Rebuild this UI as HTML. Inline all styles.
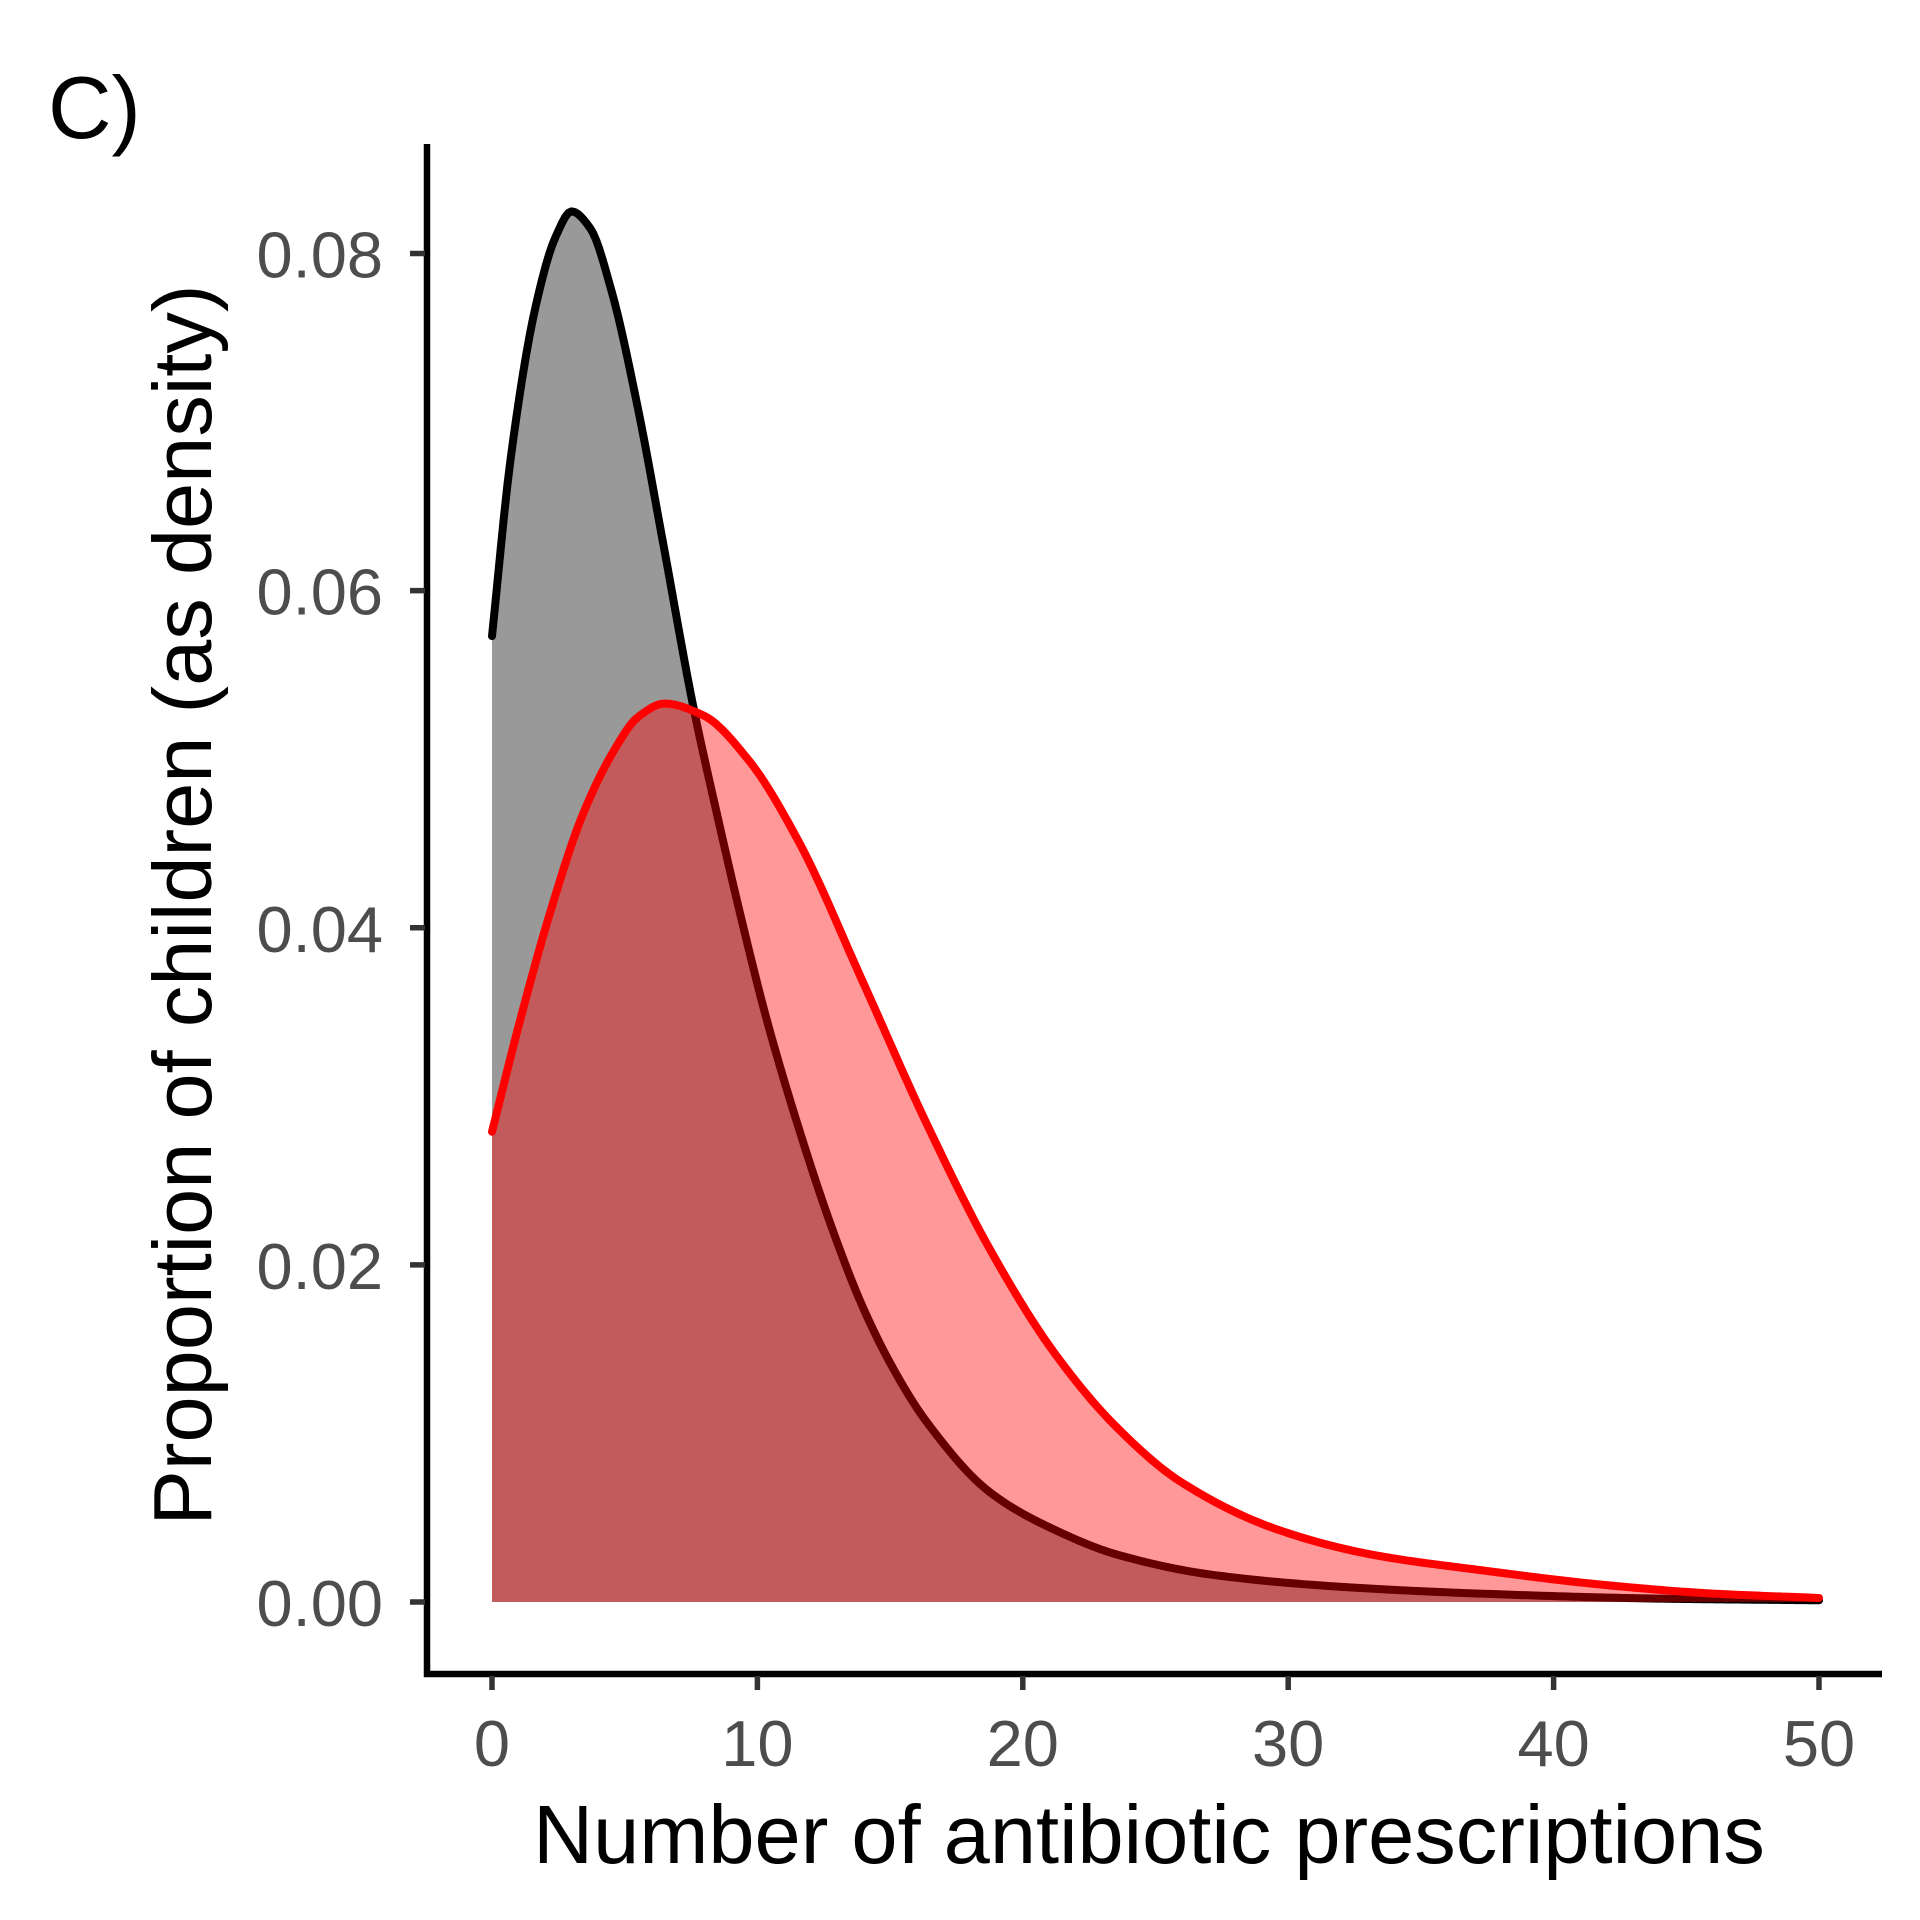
<!DOCTYPE html>
<html><head><meta charset="utf-8"><style>
html,body{margin:0;padding:0;background:#fff;}
svg{display:block;font-family:"Liberation Sans",sans-serif;}
</style></head><body>
<svg id="chart" width="1920" height="1920" viewBox="0 0 1920 1920">
<text x="48" y="138" font-size="88" fill="#000">C)</text>
<g id="plot"></g>
<line x1="427" y1="144" x2="427" y2="1677" stroke="#000" stroke-width="6.5"/>
<line x1="424" y1="1674" x2="1882" y2="1674" stroke="#000" stroke-width="6.5"/>
<g id="ticks"></g>
<text x="1149" y="1863" font-size="83" text-anchor="middle" fill="#000">Number of antibiotic prescriptions</text>
<text transform="translate(211,905) rotate(-90)" font-size="83" text-anchor="middle" fill="#000">Proportion of children (as density)</text>
</svg>
<script>
const blackX=[0,0.7,1.65,2.4,3.0,3.7,4.5,5.5,6.45,7.6,8.44,9.4,10.36,11.56,12.76,13.97,15.17,16.37,18.77,21.18,23.58,27.2,32,37.2,44,50];
const blackY=[0.0573,0.0678,0.0769,0.081,0.0825,0.0815,0.0778,0.0708,0.0628,0.053,0.047,0.0405,0.0345,0.0281,0.0224,0.0175,0.0137,0.0107,0.0065,0.0043,0.0028,0.0016,0.0009,0.0005,0.0002,0.0001];
const redX=[0,0.99,2.19,3.39,4.59,5.5,6.5,7.96,9.64,11.56,13.97,16.37,18.77,21.18,23.58,25.98,29.59,33.19,37.2,42,46,50];
const redY=[0.0279,0.0341,0.0409,0.0466,0.0505,0.0525,0.0533,0.0526,0.05,0.0451,0.0368,0.0284,0.0209,0.0148,0.0103,0.0071,0.0043,0.0028,0.0019,0.001,0.0005,0.00024];
const xTicks=[0,10,20,30,40,50];
const yTicks=[0,0.02,0.04,0.06,0.08];
const yTickLabels=["0.00","0.02","0.04","0.06","0.08"];
const NS="http://www.w3.org/2000/svg";
function sx(v){return 492+v*(1819-492)/50;}
function sy(v){return 1602-v*(1602-253.5)/0.08;}
function pathFor(xs,ys){
  const n=xs.length,d=[],m=new Array(n);
  for(let i=0;i<n-1;i++)d.push((ys[i+1]-ys[i])/(xs[i+1]-xs[i]));
  m[0]=d[0];m[n-1]=d[n-2];
  for(let i=1;i<n-1;i++){
    if(d[i-1]*d[i]<=0)m[i]=0;
    else{const h0=xs[i]-xs[i-1],h1=xs[i+1]-xs[i];const w1=2*h1+h0,w2=h1+2*h0;m[i]=(w1+w2)/(w1/d[i-1]+w2/d[i]);}
  }
  let s="M"+sx(xs[0]).toFixed(2)+","+sy(ys[0]).toFixed(2);
  for(let i=0;i<n-1;i++){
    const h=xs[i+1]-xs[i],steps=Math.max(4,Math.ceil(h*8));
    for(let k=1;k<=steps;k++){
      const t=k/steps,t2=t*t,t3=t2*t;
      const y=(2*t3-3*t2+1)*ys[i]+(t3-2*t2+t)*h*m[i]+(-2*t3+3*t2)*ys[i+1]+(t3-t2)*h*m[i+1];
      s+=" L"+sx(xs[i]+t*h).toFixed(2)+","+sy(y).toFixed(2);
    }
  }
  return s;
}
const plot=document.getElementById('plot');
function add(parent,tag,attrs){const e=document.createElementNS(NS,tag);for(const k in attrs)e.setAttribute(k,attrs[k]);parent.appendChild(e);return e;}
const bl=pathFor(blackX,blackY), rl=pathFor(redX,redY);
let e;
e=add(plot,'path',{d:bl+" L"+sx(blackX[blackX.length-1])+","+sy(0)+" L"+sx(0)+","+sy(0)+"Z",fill:"#999999"});


e=add(plot,'path',{d:bl,fill:"none",stroke:"#000","stroke-width":8,"stroke-linecap":"round","stroke-linejoin":"round"});


e=add(plot,'path',{d:rl+" L"+sx(redX[redX.length-1])+","+sy(0)+" L"+sx(0)+","+sy(0)+"Z",fill:"#ff0000","fill-opacity":0.4});


e=add(plot,'path',{d:rl,fill:"none",stroke:"#ff0000","stroke-width":8,"stroke-linecap":"round","stroke-linejoin":"round"});


const ticks=document.getElementById('ticks');
xTicks.forEach(v=>{
  let t=add(ticks,'line',{x1:sx(v),x2:sx(v),y1:1676,y2:1690,stroke:"#333","stroke-width":5.5});
  
  
  let l=add(ticks,'text',{x:sx(v),y:1766,"font-size":65,"text-anchor":"middle",fill:"#4d4d4d"});
  l.textContent=String(v);
  
  
});
yTicks.forEach((v,i)=>{
  let t=add(ticks,'line',{x1:410,x2:425,y1:sy(v),y2:sy(v),stroke:"#333","stroke-width":5.5});
  
  
  let l=add(ticks,'text',{x:383,y:sy(v)+24,"font-size":65,"text-anchor":"end",fill:"#4d4d4d"});
  l.textContent=yTickLabels[i];
  
  
});
</script>
</body></html>
